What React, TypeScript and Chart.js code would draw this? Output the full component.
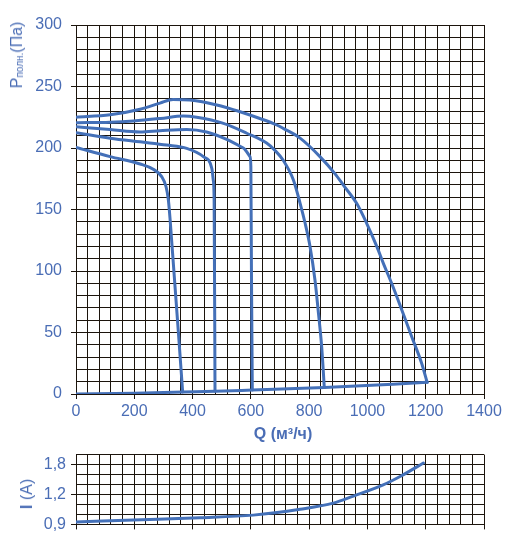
import React, { useEffect, useRef } from 'react';
import { Chart, registerables } from 'chart.js';

Chart.register(...registerables);

// ---------- data ----------
const flowMin = 0;
const flowMax = 1400;
const flowStep = 40;
const flowLabelEvery = 200;

const pressureMin = 0;
const pressureMax = 300;
const pressureStep = 10;
const pressureLabelEvery = 50;

// fan curves (Q m3/h, P Pa), top to bottom
const curve1Q = [0, 117, 220, 288, 333, 391, 483, 563, 631, 689, 711, 769, 837, 889, 920, 963, 997, 1032, 1055, 1083, 1118, 1152, 1186, 1205];
const curve1P = [225, 227, 231.5, 236.5, 239.5, 239, 235, 229.5, 224, 218.7, 216, 208, 193, 179, 169, 155, 139, 120, 106, 90, 68.3, 46.6, 25, 9.5];

const curve2Q = [0, 117, 197, 290, 368, 414, 506, 586, 654, 683, 711, 746, 769, 786, 803, 820, 832, 843, 852];
const curve2P = [220.5, 221, 222, 224, 226, 225, 220, 212, 204, 198, 190, 174, 155, 139, 120, 92.7, 65.6, 38.5, 5.2];

const curve3Q = [0, 117, 220, 288, 380, 448, 517, 574, 597, 600, 602, 605];
const curve3P = [217.3, 215, 213, 214, 215, 213, 207, 200, 193, 185, 100, 3.2];

const curve4Q = [0, 117, 220, 311, 380, 437, 466, 471, 474, 477];
const curve4P = [212.4, 208, 205, 202.4, 199.7, 193, 183.5, 174, 157.7, 2.2];

const curve5Q = [0, 117, 220, 265, 294, 309, 317, 323, 366];
const curve5P = [200.5, 193, 187, 182.7, 176.7, 168.5, 157.7, 141.5, 1.6];

// network (system) curve
const systemQ = [0, 200, 366, 477, 605, 852, 1205];
const systemP = [0, 0.6, 1.6, 2.2, 3.2, 5.2, 9.5];

// current curve (Q m3/h, I A)
const currentQ = [0, 197, 425, 608, 769, 883, 952, 1054, 1112, 1192];
const currentA = [0.925, 0.945, 0.967, 0.993, 1.052, 1.113, 1.184, 1.392, 1.56, 1.83];

// current axis: gridded rows, labels at given rows
const currentRows = 7;
const currentTickRows = [0, 3, 6];
const currentTickLabels = ['0,9', '1,2', '1,8'];

// ---------- style ----------
const lineBlue = '#4470b8';
const textBlue = '#4a6db5';
const gridColor = '#1c140c';
const fontFamily = '"Liberation Sans", Arial, Helvetica, sans-serif';

// axis of the current chart: 0.1 A per row below 1.2 A, 0.2 A per row above
function currentToRow(a: number): number {
  return a <= 1.2 ? (a - 0.9) / 0.1 : 3 + (a - 1.2) / 0.2;
}

function pts(xs: number[], ys: number[], map?: (v: number) => number) {
  return xs.map((x, i) => ({ x, y: map ? map(ys[i]) : ys[i] }));
}

function lineDs(data: { x: number; y: number }[], smooth = true) {
  return {
    data,
    borderColor: lineBlue,
    backgroundColor: lineBlue,
    borderWidth: 3,
    pointRadius: 0,
    fill: false,
    cubicInterpolationMode: smooth ? ('monotone' as const) : ('default' as const),
    tension: smooth ? 0.4 : 0,
    borderCapStyle: 'round' as const,
    borderJoinStyle: 'round' as const,
  };
}

const transparent = 'rgba(0,0,0,0)';

export default function App() {
  const mainRef = useRef<HTMLCanvasElement>(null);
  const curRef = useRef<HTMLCanvasElement>(null);

  useEffect(() => {
    const tickFont = { family: fontFamily, size: 16 };
    const xScale = (showLabels: boolean, height: number) => ({
      type: 'linear' as const,
      min: flowMin,
      max: flowMax,
      afterFit: (s: any) => {
        s.height = height;
      },
      ticks: {
        stepSize: flowStep,
        autoSkip: false,
        maxRotation: 0,
        minRotation: 0,
        color: textBlue,
        font: tickFont,
        padding: 3,
        callback: (v: any) => {
          const n = Math.round(Number(v));
          return showLabels && n % flowLabelEvery === 0 ? String(n) : '';
        },
      },
      grid: {
        color: gridColor,
        lineWidth: 1,
        tickLength: 5,
        tickColor: (ctx: any) =>
          Math.round(ctx.tick.value) % flowLabelEvery === 0 ? gridColor : transparent,
      },
      border: { color: gridColor, width: 1 },
    });

    const main = new Chart(mainRef.current!, {
      type: 'line',
      data: {
        datasets: [
          lineDs(pts(curve1Q, curve1P)),
          lineDs(pts(curve2Q, curve2P)),
          lineDs(pts(curve3Q, curve3P)),
          lineDs(pts(curve4Q, curve4P)),
          lineDs(pts(curve5Q, curve5P)),
          lineDs(pts(systemQ, systemP)),
        ] as any,
      },
      options: {
        animation: false,
        responsive: false,
        maintainAspectRatio: false,
        layout: { padding: { top: 25, right: 25, left: 0, bottom: 0 } },
        plugins: { legend: { display: false }, tooltip: { enabled: false }, title: { display: false } },
        scales: {
          x: xScale(true, 51),
          y: {
            type: 'linear',
            min: pressureMin,
            max: pressureMax,
            afterFit: (s: any) => {
              s.width = 76;
            },
            ticks: {
              stepSize: pressureStep,
              autoSkip: false,
              color: textBlue,
              font: tickFont,
              padding: 9,
              callback: (v: any) => {
                const n = Math.round(Number(v));
                return n % pressureLabelEvery === 0 ? String(n) : '';
              },
            },
            grid: {
              color: gridColor,
              lineWidth: 1,
              tickLength: 5,
              tickColor: (ctx: any) =>
                Math.round(ctx.tick.value) % pressureLabelEvery === 0 ? gridColor : transparent,
            },
            border: { color: gridColor, width: 1 },
          },
        },
      } as any,
    });

    const cur = new Chart(curRef.current!, {
      type: 'line',
      data: {
        datasets: [lineDs(pts(currentQ, currentA, currentToRow))] as any,
      },
      options: {
        animation: false,
        responsive: false,
        maintainAspectRatio: false,
        layout: { padding: { top: 9, right: 25, left: 0, bottom: 0 } },
        plugins: { legend: { display: false }, tooltip: { enabled: false } },
        scales: {
          x: xScale(false, 7),
          y: {
            type: 'linear',
            min: 0,
            max: currentRows,
            afterFit: (s: any) => {
              s.width = 76;
            },
            ticks: {
              stepSize: 1,
              autoSkip: false,
              color: textBlue,
              font: tickFont,
              padding: 5,
              callback: (v: any) => {
                const i = currentTickRows.indexOf(Math.round(Number(v)));
                return i >= 0 ? currentTickLabels[i] : '';
              },
            },
            grid: {
              color: gridColor,
              lineWidth: 1,
              tickLength: 5,
              tickColor: (ctx: any) =>
                currentTickRows.indexOf(Math.round(ctx.tick.value)) >= 0 ? gridColor : transparent,
            },
            border: { color: gridColor, width: 1 },
          },
        },
      } as any,
    });

    return () => {
      main.destroy();
      cur.destroy();
    };
  }, []);

  const abs: React.CSSProperties = { position: 'absolute' };

  return (
    <div
      style={{
        position: 'absolute',
        left: 0,
        top: 0,
        width: 509,
        height: 539,
        background: '#fff',
        fontFamily,
        color: textBlue,
      }}
    >
      <canvas ref={mainRef} width={509} height={445} style={{ ...abs, left: 0, top: 0, width: 509, height: 445 }} />
      <canvas ref={curRef} width={509} height={99} style={{ ...abs, left: 0, top: 440, width: 509, height: 99 }} />

      <div
        style={{
          ...abs,
          left: 18,
          top: 55,
          transform: 'translate(-50%, -50%) rotate(-90deg)',
          whiteSpace: 'nowrap',
          fontSize: 16,
          lineHeight: '16px',
        }}
      >
        Р<span style={{ fontSize: 10, position: 'relative', top: 1 }}>полн.</span>(Па)
      </div>

      <div
        style={{
          ...abs,
          left: 283,
          top: 434,
          transform: 'translate(-50%, -50%)',
          whiteSpace: 'nowrap',
          fontSize: 16,
          fontWeight: 'bold',
          lineHeight: '16px',
        }}
      >
        Q (м³/ч)
      </div>

      <div
        style={{
          ...abs,
          left: 27,
          top: 494,
          transform: 'translate(-50%, -50%) rotate(-90deg)',
          whiteSpace: 'nowrap',
          fontSize: 16,
          lineHeight: '16px',
        }}
      >
        <span style={{ fontWeight: 'bold' }}>I</span> (A)
      </div>
    </div>
  );
}
